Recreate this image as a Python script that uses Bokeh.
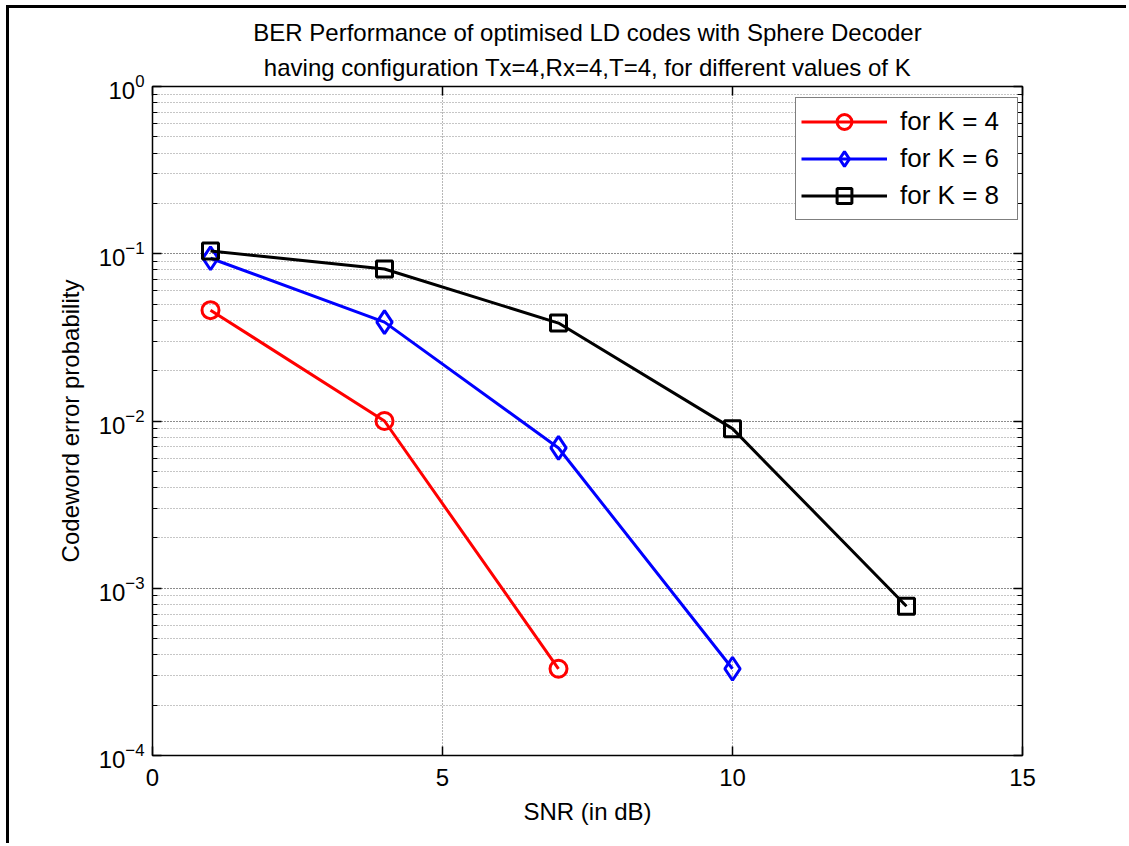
from bokeh.plotting import figure
from bokeh.models import (Range1d, LinearAxis, LogAxis, Title, Legend, LegendItem,
                          FixedTicker, LogTicker)
from bokeh.embed import file_html
from bokeh.resources import INLINE

# ---- data ----
snr_k4 = [1, 4, 7]
cwep_k4 = [0.046, 0.0100, 3.3e-4]
snr_k6 = [1, 4, 7, 10]
cwep_k6 = [0.094, 0.0390, 0.0069, 3.3e-4]
snr_k8 = [1, 4, 7, 10, 13]
cwep_k8 = [0.104, 0.0810, 0.0385, 0.0090, 7.8e-4]
x_ticks = [0, 5, 10, 15]
series_labels = ["for K = 4", "for K = 6", "for K = 8"]
title_lines = ["BER Performance of optimised LD codes with Sphere Decoder",
               "having configuration Tx=4,Rx=4,T=4, for different values of K"]

FONT = "Liberation Sans"

p = figure(width=1120, height=838, y_axis_type="log",
           x_range=Range1d(0, 15), y_range=Range1d(1e-4, 1),
           output_backend="svg", toolbar_location=None,
           min_border_left=143, min_border_right=107,
           min_border_top=78, min_border_bottom=91)
p.styles = {"margin-left": "6px", "margin-top": "5px",
            "border-left": "3px solid black", "border-top": "3px solid black"}

p.background_fill_color = "white"
p.border_fill_color = "white"
p.outline_line_color = "black"
p.outline_line_width = 1.5

# axes
p.xaxis.ticker = FixedTicker(ticks=x_ticks)
p.yaxis.ticker = LogTicker(desired_num_ticks=5, num_minor_ticks=10)
for ax in (p.xaxis[0], p.yaxis[0]):
    ax.major_label_text_font = FONT
    ax.major_label_text_font_size = "24px"
    ax.major_label_text_color = "black"
    ax.axis_label_text_font = FONT
    ax.axis_label_text_font_size = "24px"
    ax.axis_label_text_font_style = "normal"
    ax.axis_label_text_color = "black"
    ax.axis_line_color = None
    ax.major_tick_in = 9
    ax.major_tick_out = 0
    ax.minor_tick_in = 5
    ax.minor_tick_out = 0
    ax.major_tick_line_color = "black"
    ax.major_tick_line_width = 1.5
    ax.minor_tick_line_color = "black"
p.xaxis.minor_tick_line_color = None
p.xaxis.axis_label = "SNR (in dB)"
p.yaxis.axis_label = "Codeword error probability"
p.xaxis.major_label_standoff = 13
p.xaxis.axis_label_standoff = 9
p.yaxis.major_label_standoff = 8
p.yaxis.axis_label_standoff = 12

# mirrored ticks on top and right (labels made invisible)
top_ax = LinearAxis(ticker=FixedTicker(ticks=x_ticks),
                    major_label_text_font_size="6px", major_label_text_alpha=0,
                    major_label_standoff=0, axis_line_color=None,
                    major_tick_in=9, major_tick_out=0, minor_tick_line_color=None,
                    major_tick_line_color="black", major_tick_line_width=1.5)
right_ax = LogAxis(ticker=LogTicker(desired_num_ticks=5, num_minor_ticks=10),
                   major_label_text_font_size="6px", major_label_text_alpha=0,
                   major_label_standoff=0,
                   axis_line_color=None, major_tick_in=9, major_tick_out=0,
                   minor_tick_in=5, minor_tick_out=0,
                   major_tick_line_color="black", major_tick_line_width=1.5,
                   minor_tick_line_color="black")
p.add_layout(right_ax, "right")
p.add_layout(top_ax, "above")

# titles (second line added first so it sits nearest the frame)
p.add_layout(Title(text=title_lines[1], align="center", text_font=FONT,
                   text_font_size="24px", text_font_style="normal",
                   text_color="black", standoff=12), "above")
p.add_layout(Title(text=title_lines[0], align="center", text_font=FONT,
                   text_font_size="24px", text_font_style="normal",
                   text_color="black", standoff=0), "above")

# grids (MATLAB style dotted)
p.xgrid.ticker = FixedTicker(ticks=x_ticks)
p.xgrid.grid_line_color = "#6e6e6e"
p.xgrid.grid_line_dash = "1 2"
p.xgrid.grid_line_width = 1
p.ygrid.grid_line_color = "#6e6e6e"
p.ygrid.grid_line_dash = "1 2"
p.ygrid.grid_line_width = 1
p.ygrid.minor_grid_line_color = "#8c8c8c"
p.ygrid.minor_grid_line_dash = "1 2"
p.ygrid.minor_grid_line_width = 1

# series
r4l = p.line(snr_k4, cwep_k4, line_color="red", line_width=3)
r4m = p.scatter(snr_k4, cwep_k4, marker="circle", size=17, fill_color=None,
                line_color="red", line_width=3)
r6l = p.line(snr_k6, cwep_k6, line_color="blue", line_width=3)
r6m = p.scatter(snr_k6, cwep_k6, marker="diamond", size=23,
                fill_color=None, line_color="blue", line_width=3)
r8l = p.line(snr_k8, cwep_k8, line_color="black", line_width=3)
r8m = p.scatter(snr_k8, cwep_k8, marker="square", size=16, fill_color=None,
                line_color="black", line_width=3)

legend = Legend(items=[LegendItem(label=series_labels[0], renderers=[r4l, r4m]),
                       LegendItem(label=series_labels[1], renderers=[r6l, r6m]),
                       LegendItem(label=series_labels[2], renderers=[r8l, r8m])],
                location=(643, 535), orientation="vertical",
                label_text_font=FONT, label_text_font_size="26px",
                label_text_color="black",
                glyph_width=86, glyph_height=37, label_height=37, label_width=112,
                label_standoff=13, spacing=0, padding=5, margin=0,
                border_line_color="black", border_line_width=1.5,
                background_fill_color="white", background_fill_alpha=1)
p.add_layout(legend, "center")

open("out.html", "w").write(file_html(p, INLINE))
